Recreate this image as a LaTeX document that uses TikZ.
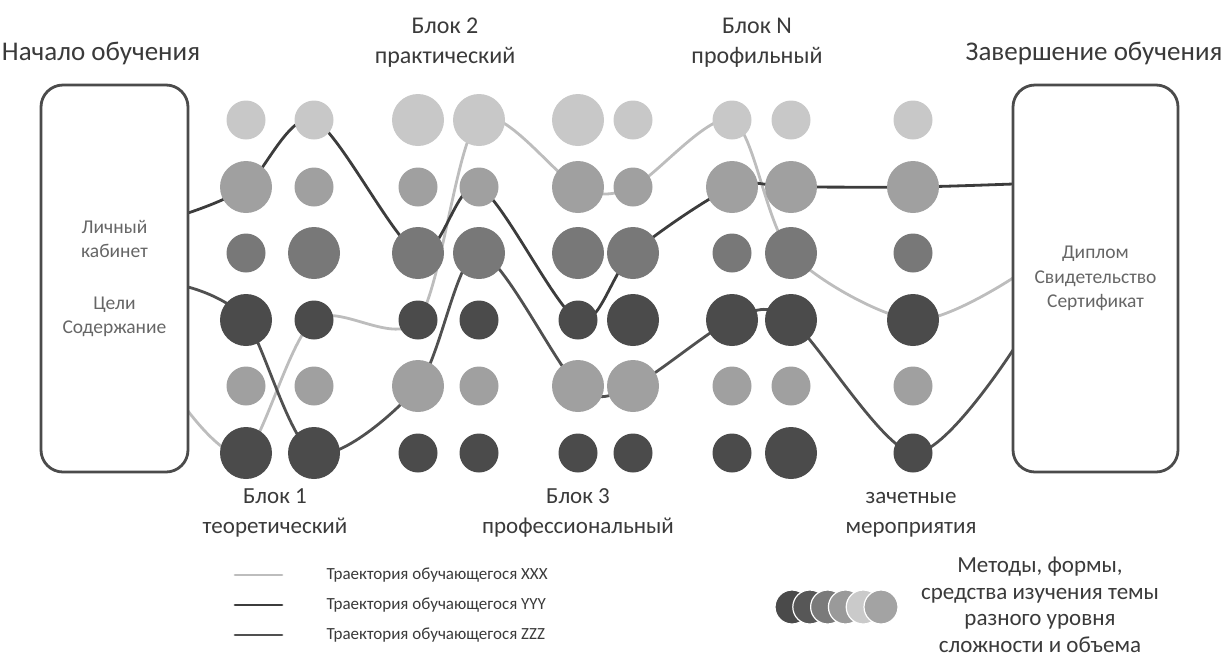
\documentclass[tikz,border=0pt]{standalone}
\usepackage{fontspec}
\setmainfont{Carlito}
\usetikzlibrary{backgrounds}
\definecolor{ink}{HTML}{3A3A3A}
\definecolor{boxtext}{HTML}{666666}
\definecolor{lvlA}{HTML}{C8C8C8}
\definecolor{lvlB}{HTML}{A0A0A0}
\definecolor{lvlC}{HTML}{787878}
\definecolor{lvlD}{HTML}{4B4B4B}
\definecolor{trX}{HTML}{BDBDBD}
\definecolor{trY}{HTML}{3C3C3C}
\definecolor{trZ}{HTML}{505050}
\tikzset{
  frame/.style={draw=lvlD, line width=2.8pt, rounded corners=22pt, fill=white,
    inner sep=0pt, align=center, text=boxtext, font=\fontsize{19.5}{24.5}\selectfont},
  dot/.style={circle, inner sep=0pt, draw=none},
  legdot/.style={circle, inner sep=0pt, minimum size=34, draw=white, line width=1.2pt},
  trajX/.style={draw=trX, line width=2.8pt, line cap=round},
  trajY/.style={draw=trY, line width=2.8pt, line cap=round},
  trajZ/.style={draw=trZ, line width=2.8pt, line cap=round},
  title/.style={text=ink, font=\fontsize{27}{30}\selectfont},
  blk/.style={text=ink, align=center, font=\fontsize{23}{30}\selectfont},
  lab/.style={text=ink, anchor=west, font=\fontsize{17}{22}\selectfont},
}

\begin{document}
\begin{tikzpicture}[x=1pt, y=-1pt]
  \useasboundingbox (0,0) rectangle (1232,657);
  % start and finish
  \node[frame, minimum width=147, minimum height=387] (start) at (114.5,278.5)
    {Личный\\кабинет\\[27pt]Цели\\Содержание};
  \node[frame, minimum width=165, minimum height=387] (finish) at (1095.5,278.5)
    {Диплом\\Свидетельство\\Сертификат};
  \node[title, anchor=base] (tStart) at (101,60) {Начало обучения};
  \node[title, anchor=base] (tFinish) at (1094,60) {Завершение обучения};
  % methods grid
  \foreach \c/\x/\d in {1/246/39,2/314/39,3/418/52,4/479/52,5/578/52,6/633/39,7/732/39,8/791/39,9/913/39}
    \node[dot, fill=lvlA, minimum size=\d] (c1\c) at (\x,120) {};
  \foreach \c/\x/\d in {1/246/52,2/314/39,3/418/39,4/479/39,5/578/52,6/633/39,7/732/52,8/791/52,9/913/52}
    \node[dot, fill=lvlB, minimum size=\d] (c2\c) at (\x,187) {};
  \foreach \c/\x/\d in {1/246/39,2/314/52,3/418/52,4/479/52,5/578/52,6/633/52,7/732/39,8/791/52,9/913/39}
    \node[dot, fill=lvlC, minimum size=\d] (c3\c) at (\x,253) {};
  \foreach \c/\x/\d in {1/246/52,2/314/39,3/418/39,4/479/39,5/578/39,6/633/52,7/732/52,8/791/52,9/913/52}
    \node[dot, fill=lvlD, minimum size=\d] (c4\c) at (\x,320) {};
  \foreach \c/\x/\d in {1/246/39,2/314/39,3/418/52,4/479/39,5/578/52,6/633/52,7/732/39,8/791/39,9/913/39}
    \node[dot, fill=lvlB, minimum size=\d] (c5\c) at (\x,386) {};
  \foreach \c/\x/\d in {1/246/52,2/314/52,3/418/39,4/479/39,5/578/39,6/633/39,7/732/39,8/791/52,9/913/39}
    \node[dot, fill=lvlD, minimum size=\d] (c6\c) at (\x,453) {};
  % block labels (base = last line)
  \node[blk, anchor=base, font=\fontsize{24}{30}\selectfont] (b2) at (445,63) {Блок 2\\практический};
  \node[blk, anchor=base, font=\fontsize{24}{30}\selectfont] (bN) at (757,63) {Блок N\\профильный};
  \node[blk, anchor=base] (b1) at (275,533) {Блок 1\\теоретический};
  \node[blk, anchor=base] (b3) at (578,533) {Блок 3\\профессиональный};
  \node[blk, anchor=base] (bz) at (911,533) {зачетные\\мероприятия};
  % trajectories
  \coordinate (inA) at (188,213);
  \coordinate (inB) at (188,287);
  \coordinate (inC) at (188,411);
  \coordinate (outA) at (1013,184);
  \coordinate (outB) at (1013,350);
  \coordinate (outC) at (1013,278);
  \begin{pgfonlayer}{background}
    \draw[trajX] plot[smooth, tension=0.5] coordinates
      {(inC) (c61) (c42) (c43) (c14) (c25) (c26) (c17) (c38) (c49) (outC)};
    \draw[trajY] plot[smooth, tension=0.5] coordinates
      {(inA) (c21) (c12) (c33) (c24) (c45) (c36) (c27) (c28) (c29) (outA)};
    \draw[trajZ] plot[smooth, tension=0.5] coordinates
      {(inB) (c41) (c62) (c53) (c34) (c55) (c56) (c47) (c48) (c69) (outB)};
  \end{pgfonlayer}
  % legend
  \coordinate (lgX) at (235,575);
  \coordinate (lgY) at (235,605);
  \coordinate (lgZ) at (235,635);
  \draw[trajX] (lgX) -- ++(47,0);
  \draw[trajY] (lgY) -- ++(47,0);
  \draw[trajZ] (lgZ) -- ++(47,0);
  \node[lab] (tX) at (323,575) {Траектория обучающегося XXX};
  \node[lab] (tY) at (323,605) {Траектория обучающегося YYY};
  \node[lab] (tZ) at (323,635) {Траектория обучающегося ZZZ};
  \foreach \i/\f in {0/4A4A4A,1/575757,2/7A7A7A,3/9A9A9A,4/CACACA,5/A3A3A3}{
    \definecolor{mc}{HTML}{\f}
    \node[legdot, fill=mc] (m\i) at (792+17.8*\i,607) {};
  }
  \node[text=ink, align=center, font=\fontsize{23}{26.5}\selectfont] (mText) at (1040,605)
    {Методы, формы,\\средства изучения темы\\разного уровня\\сложности и объема};
\end{tikzpicture}
\end{document}
